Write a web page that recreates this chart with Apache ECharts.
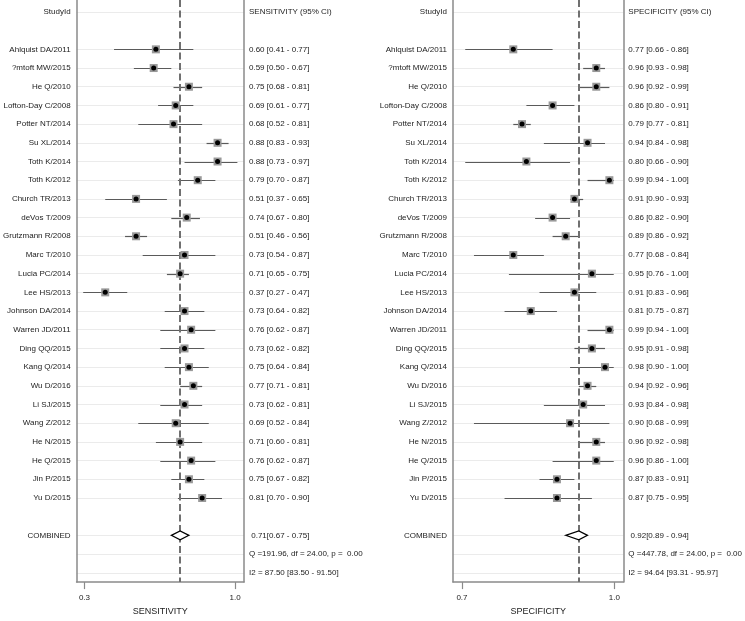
<!DOCTYPE html>
<html>
<head>
<meta charset="utf-8">
<script src="https://cdn.jsdelivr.net/npm/echarts@6/dist/echarts.min.js"></script>
<style>html,body{margin:0;padding:0;background:#fff;}#c{width:745px;height:621px;}</style>
</head>
<body>
<div id="c"></div>
<script>
const studies = ['Ahlquist DA/2011','?mtoft MW/2015','He Q/2010','Lofton-Day C/2008','Potter NT/2014','Su XL/2014','Toth K/2014','Toth K/2012','Church TR/2013','deVos T/2009','Grutzmann R/2008','Marc T/2010','Lucia PC/2014','Lee HS/2013','Johnson DA/2014','Warren JD/2011','Ding QQ/2015','Kang Q/2014','Wu D/2016','Li SJ/2015','Wang Z/2012','He N/2015','He Q/2015','Jin P/2015','Yu D/2015'];
const sensEst = [0.60,0.59,0.75,0.69,0.68,0.88,0.88,0.79,0.51,0.74,0.51,0.73,0.71,0.37,0.73,0.76,0.73,0.75,0.77,0.73,0.69,0.71,0.76,0.75,0.81];
const sensLo  = [0.41,0.50,0.68,0.61,0.52,0.83,0.73,0.70,0.37,0.67,0.46,0.54,0.65,0.27,0.64,0.62,0.62,0.64,0.71,0.62,0.52,0.60,0.62,0.67,0.70];
const sensHi  = [0.77,0.67,0.81,0.77,0.81,0.93,0.97,0.87,0.65,0.80,0.56,0.87,0.75,0.47,0.82,0.87,0.82,0.84,0.81,0.81,0.84,0.81,0.87,0.82,0.90];
const specEst = [0.77,0.96,0.96,0.86,0.79,0.94,0.80,0.99,0.91,0.86,0.89,0.77,0.95,0.91,0.81,0.99,0.95,0.98,0.94,0.93,0.90,0.96,0.96,0.87,0.87];
const specLo  = [0.66,0.93,0.92,0.80,0.77,0.84,0.66,0.94,0.90,0.82,0.86,0.68,0.76,0.83,0.75,0.94,0.91,0.90,0.92,0.84,0.68,0.92,0.86,0.83,0.75];
const specHi  = [0.86,0.98,0.99,0.91,0.81,0.98,0.90,1.00,0.93,0.90,0.92,0.84,1.00,0.96,0.87,1.00,0.98,1.00,0.96,0.98,0.99,0.98,1.00,0.91,0.95];
const sensCombined = [0.71, 0.67, 0.75];
const specCombined = [0.92, 0.89, 0.94];
const sensQ = 'Q =191.96, df = 24.00, p =  0.00';
const specQ = 'Q =447.78, df = 24.00, p =  0.00';
const sensI2 = 'I2 = 87.50 [83.50 - 91.50]';
const specI2 = 'I2 = 94.64 [93.31 - 95.97]';
const sensTicks = [0.3, 1.0];
const specTicks = [0.7, 1.0];

const FONT = "'Liberation Sans', Arial, sans-serif";
const TXT = '#222';
const n = studies.length;
const rowOf = i => i + 2;
const combRow = n + 3, qRow = n + 4, i2Row = n + 5;
const labeledRows = [0].concat(studies.map((s, i) => rowOf(i)), [combRow, qRow, i2Row]);
const f2 = v => v.toFixed(2);

function leftLabels() {
  const m = {0: 'StudyId'};
  studies.forEach((s, i) => m[rowOf(i)] = s);
  m[combRow] = 'COMBINED';
  return m;
}
function rightLabels(title, est, lo, hi, comb, q, i2) {
  const m = {0: title};
  studies.forEach((s, i) => m[rowOf(i)] = f2(est[i]) + ' [' + f2(lo[i]) + ' - ' + f2(hi[i]) + ']');
  m[combRow] = ' ' + f2(comb[0]) + '[' + f2(comb[1]) + ' - ' + f2(comb[2]) + ']';
  m[qRow] = q;
  m[i2Row] = i2;
  return m;
}
const LL = leftLabels();
const RS = rightLabels('SENSITIVITY (95% CI)', sensEst, sensLo, sensHi, sensCombined, sensQ, sensI2);
const RP = rightLabels('SPECIFICITY (95% CI)', specEst, specLo, specHi, specCombined, specQ, specI2);

const YMIN = -0.64, YMAX = n + 5.5;
const axisLineStyle = {color: '#8a8a8a', width: 1.5};

function yAx(gridIndex, pos, map, showLine) {
  return {
    type: 'value', gridIndex, position: pos, inverse: true, min: YMIN, max: YMAX,
    axisLine: {show: showLine, onZero: false, lineStyle: axisLineStyle},
    axisTick: {show: false}, splitLine: {show: false},
    axisLabel: {
      customValues: Object.keys(map).map(Number),
      formatter: v => map[Math.round(v)] || '',
      color: TXT, fontFamily: FONT, fontSize: 8, margin: pos === 'left' ? 6 : 5
    }
  };
}

function xMain(gridIndex, min, max) {
  return {type: 'value', gridIndex, min, max, show: false, position: 'bottom', axisLine: {onZero: false}};
}
function xTick(gridIndex, min, max, ticks, name) {
  return {
    type: 'value', gridIndex, min, max, position: 'bottom',
    name, nameLocation: 'middle', nameGap: 21,
    nameTextStyle: {color: TXT, fontFamily: FONT, fontSize: 9},
    axisLine: {show: true, onZero: false, lineStyle: axisLineStyle},
    axisTick: {show: true, customValues: ticks, length: 7, lineStyle: {color: '#8a8a8a', width: 1.2}},
    axisLabel: {customValues: ticks, formatter: v => v.toFixed(1), color: TXT, fontFamily: FONT, fontSize: 8, margin: 12},
    splitLine: {show: false}
  };
}

function panelSeries(xi, yi, est, lo, hi, comb) {
  const ciData = est.map((e, i) => [lo[i], hi[i], rowOf(i)]);
  const ptData = est.map((e, i) => [e, rowOf(i)]);
  return [
    {
      type: 'scatter', xAxisIndex: xi, yAxisIndex: yi, data: [], z: 0, silent: true,
      markLine: {
        z: 0,
        silent: true, symbol: 'none', label: {show: false},
        lineStyle: {color: '#ebebeb', width: 1, type: 'solid'},
        data: labeledRows.map(r => ({yAxis: r}))
      }
    },
    {
      type: 'custom', xAxisIndex: xi, yAxisIndex: yi, z: 2, silent: true,
      encode: {x: [0, 1], y: 2},
      data: ciData,
      renderItem: (params, api) => {
        const a = api.coord([api.value(0), api.value(2)]);
        const b = api.coord([api.value(1), api.value(2)]);
        const y = Math.round(a[1]) + 0.5;
        return {type: 'line', shape: {x1: a[0], y1: y, x2: b[0], y2: y}, style: {stroke: '#5a5a5a', lineWidth: 1.2}};
      }
    },
    {
      type: 'scatter', xAxisIndex: xi, yAxisIndex: yi, z: 3, silent: true,
      symbol: 'rect', symbolSize: 8, itemStyle: {color: '#999999', opacity: 1},
      data: ptData
    },
    {
      type: 'scatter', xAxisIndex: xi, yAxisIndex: yi, z: 4, silent: true,
      symbol: 'circle', symbolSize: 5, itemStyle: {color: '#000', opacity: 1},
      data: ptData,
      markLine: {
        z: 2.5,
        silent: true, symbol: 'none', label: {show: false},
        lineStyle: {color: '#707070', width: 2, type: [7, 3.5]},
        data: [{xAxis: comb[0]}]
      }
    },
    {
      type: 'custom', xAxisIndex: xi, yAxisIndex: yi, z: 6, silent: true,
      encode: {x: [0, 1, 2], y: 3},
      data: [[comb[1], comb[0], comb[2], combRow]],
      renderItem: (params, api) => {
        const r = api.value(3);
        const l = api.coord([api.value(0), r]);
        const c = api.coord([api.value(1), r]);
        const h = api.coord([api.value(2), r]);
        const d = 4.5;
        return {type: 'polygon', shape: {points: [[l[0], l[1]], [c[0], c[1] - d], [h[0], h[1]], [c[0], c[1] + d]]},
                style: {fill: '#fff', stroke: '#000', lineWidth: 1.2}};
      }
    }
  ];
}

const chart = echarts.init(document.getElementById('c'), null, {renderer: 'canvas'});
chart.setOption({
  animation: false,
  backgroundColor: '#fff',
  textStyle: {fontFamily: FONT},
  grid: [
    {left: 74, width: 170, top: 0, bottom: 31},
    {left: 453, width: 171.3, top: 0, bottom: 31}
  ],
  xAxis: [
    xMain(0, 0.24, 1.0),
    xTick(0, 0.2634, 1.0412, sensTicks, 'SENSITIVITY'),
    xMain(1, 0.632, 1.022),
    xTick(1, 0.6824, 1.0176, specTicks, 'SPECIFICITY')
  ],
  yAxis: [
    yAx(0, 'left', LL, true),
    yAx(0, 'right', RS, true),
    yAx(1, 'left', LL, true),
    yAx(1, 'right', RP, true)
  ],
  series: [].concat(
    panelSeries(0, 0, sensEst, sensLo, sensHi, sensCombined),
    panelSeries(2, 2, specEst, specLo, specHi, specCombined)
  )
});
</script>
</body>
</html>
